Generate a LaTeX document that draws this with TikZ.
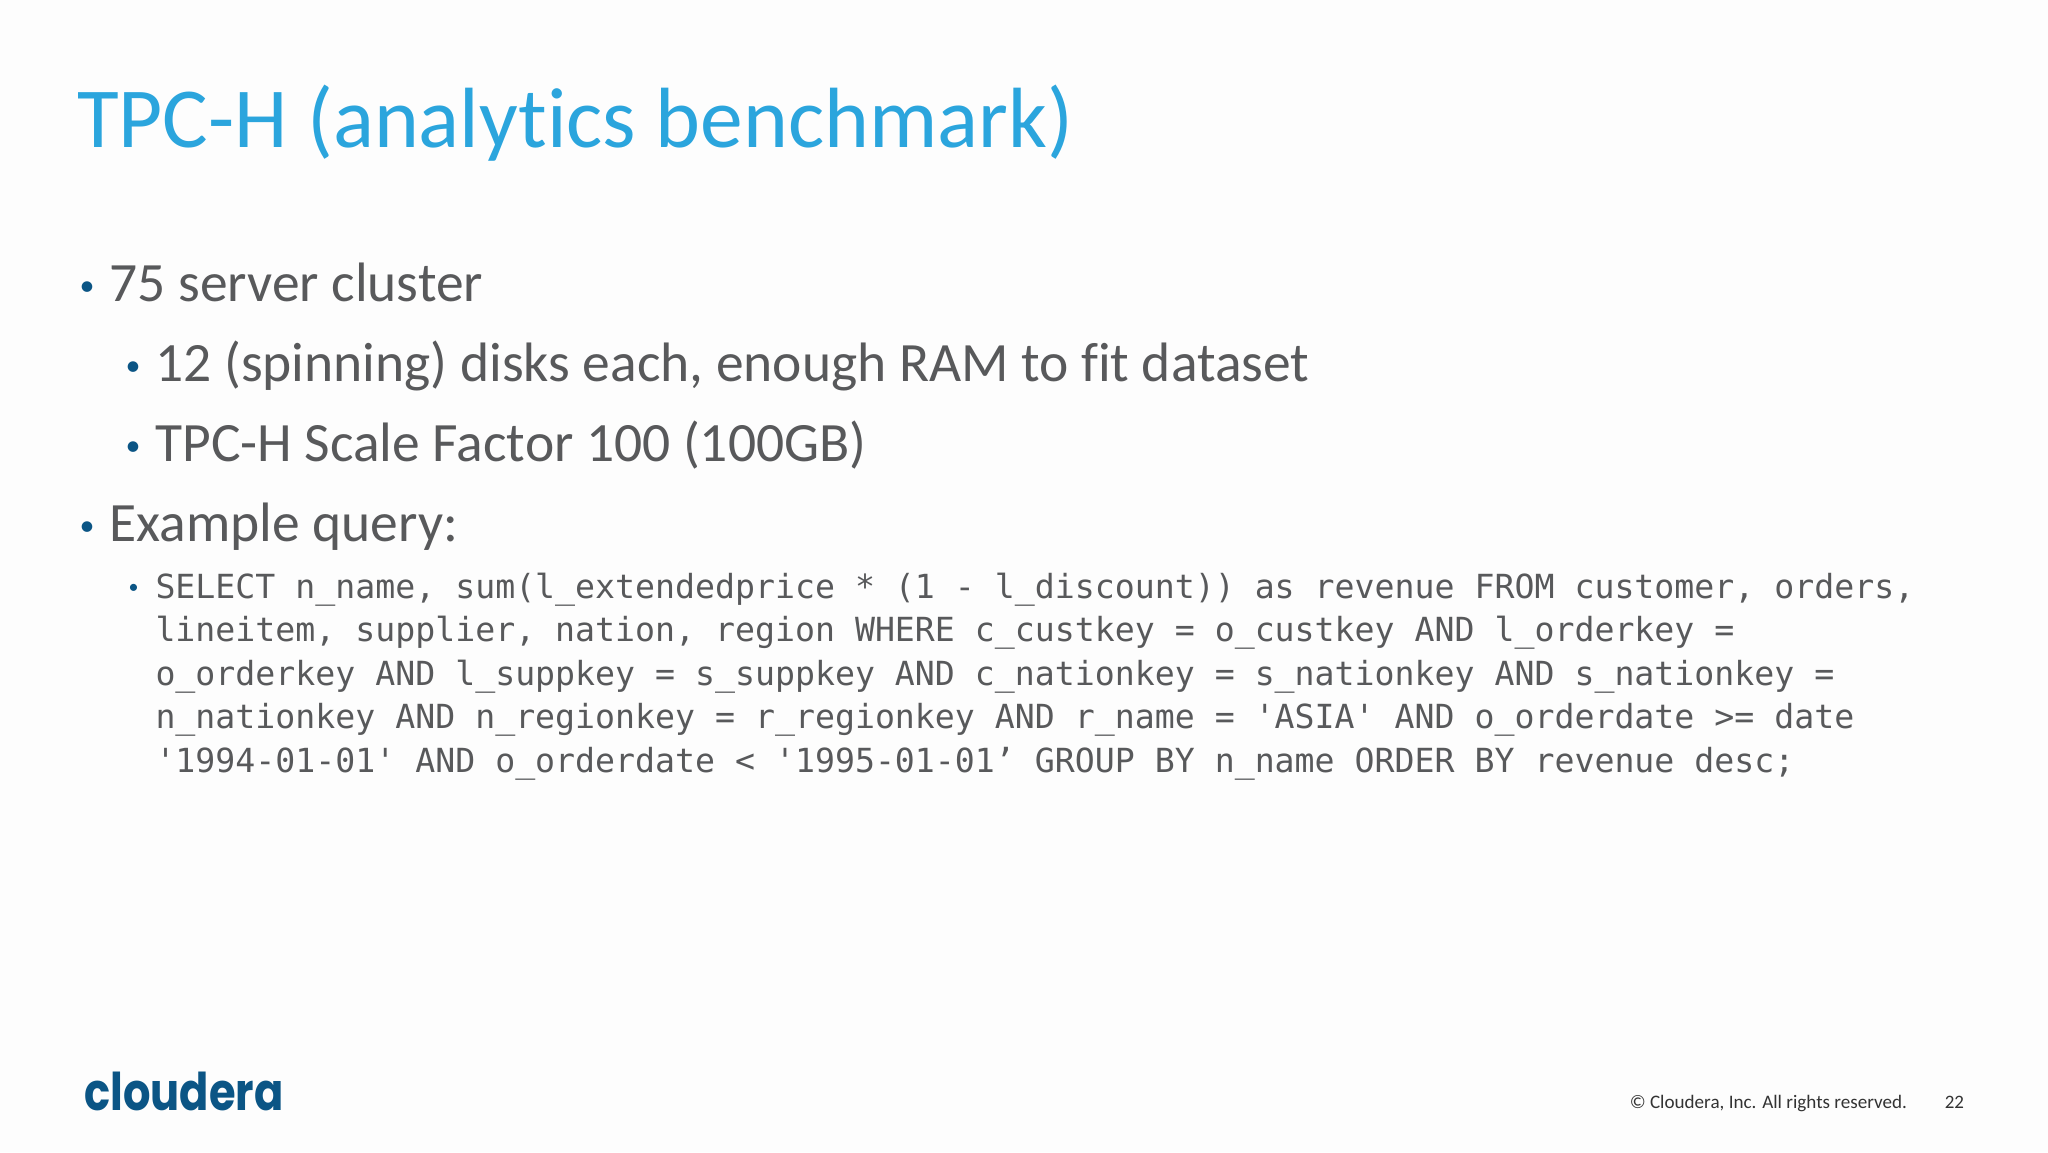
\documentclass[tikz,border=0pt]{standalone}
\usepackage{fontspec}
\setmainfont{Carlito}[Ligatures=NoCommon]
\setmonofont{DejaVu Sans Mono}
\newfontfamily\logofont{Poppins}[FakeStretch=0.83]
\usetikzlibrary{positioning}
\definecolor{slidebg}{HTML}{FDFDFD}
\definecolor{titleblue}{HTML}{2BA5DD}
\definecolor{bodygray}{HTML}{58595B}
\definecolor{logoblue}{HTML}{0B5585}
\definecolor{footgray}{HTML}{333333}
\tikzset{
  every node/.style={inner sep=0pt, outer sep=0pt},
  level/.style={anchor=west, text=bodygray, font=\fontsize{55.5}{55.5}\selectfont, text height=40pt, text depth=12pt},
  bulletdot/.style={anchor=east, text=logoblue, font=\fontsize{30}{30}\selectfont, text height=34pt, text depth=18pt},
  codeline/.style={anchor=north west, text=bodygray, align=left, font=\fontsize{33.2}{43.4}\selectfont\ttfamily}
}
\begin{document}
\begin{tikzpicture}
\fill [slidebg] (0,0) rectangle (2048pt,1152pt);
\useasboundingbox (0,0) rectangle (2048pt,1152pt);

\node [anchor=base west, text=titleblue, font=\fontsize{85.5}{85.5}\selectfont] (title) at (77pt,1004pt) {TPC-H (analytics benchmark)};

% same height on all body lines, so they stack evenly
\node [level] (srv) at (109.5pt,864pt) {75 server cluster};
\node [level, below= 28pt of srv.south west, anchor=north west, xshift=46pt] (disk) {12 (spinning) disks each, enough RAM to fit dataset};
\node [level, below= 28pt of disk.south west, anchor=north west] (scale) {TPC-H Scale Factor 100 (100GB)};
\node [level, below= 28pt of scale.south west, anchor=north west, xshift=-46pt] (query) {Example query:};
\node [codeline] (code) at (155.5pt,579pt) {SELECT n\_name, sum(l\_extendedprice * (1 - l\_discount)) as revenue FROM customer, orders,\\
lineitem, supplier, nation, region WHERE c\_custkey = o\_custkey AND l\_orderkey =\\
o\_orderkey AND l\_suppkey = s\_suppkey AND c\_nationkey = s\_nationkey AND s\_nationkey =\\
n\_nationkey AND n\_regionkey = r\_regionkey AND r\_name = 'ASIA' AND o\_orderdate >= date\\
'1994-01-01' AND o\_orderdate < '1995-01-01’ GROUP BY n\_name ORDER BY revenue desc;};

\node [bulletdot, left= 15pt of srv] (b1) {•};
\node [bulletdot, left= 15pt of disk] (b2) {•};
\node [bulletdot, left= 15pt of scale] (b3) {•};
\node [bulletdot, left= 15pt of query] (b4) {•};
\node [left= 17pt of code.north west, anchor=north east, yshift=-11pt, text=logoblue, font=\fontsize{20}{20}\selectfont] (b5) {•};

\node [anchor=base west, text=logoblue, font=\fontsize{52}{52}\logofont\bfseries] (logo) at (84.5pt,42pt) {cloudera};
\node [anchor=base east, text=footgray, font=\fontsize{19}{19}\selectfont] (page) at (1964pt,44pt) {22};
\node [anchor=base east, text=footgray, font=\fontsize{19.1}{19}\selectfont] (copy) at (1907pt,44pt) {© Cloudera, Inc. All rights reserved.};
\end{tikzpicture}
\end{document}
